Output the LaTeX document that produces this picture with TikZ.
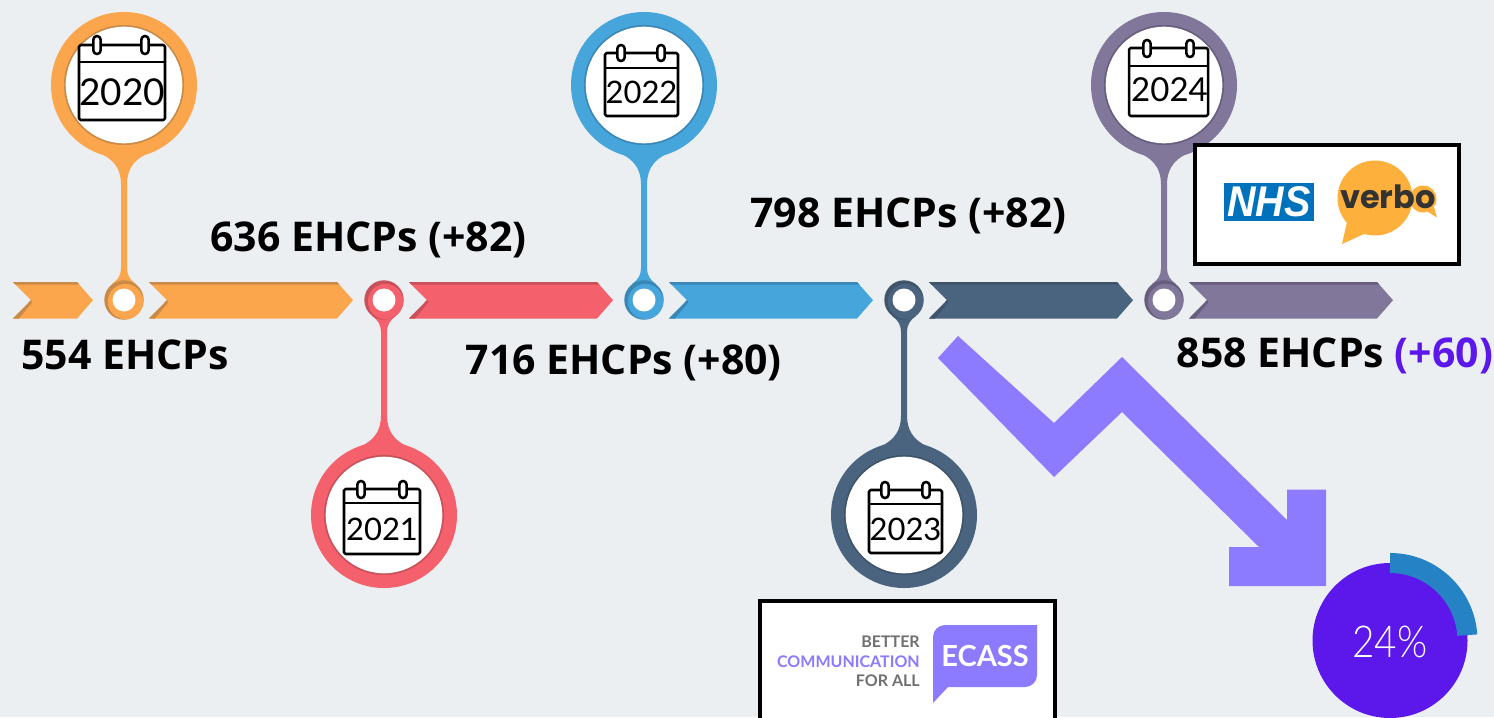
\documentclass[tikz,border=0pt]{standalone}
\usepackage{fontspec}
\setmainfont{Open Sans}
\newfontfamily\yearfont{Lato}
\newfontfamily\thinfont{Lato}[UprightFont=* Light]
\newfontfamily\logofont{Lato}
\newfontfamily\nhsfont{Liberation Sans}
\newfontfamily\verbofont{Poppins}
\definecolor{bgc}{HTML}{EBEFF2}
\definecolor{orangeC}{HTML}{FBA64C}\definecolor{orangeD}{HTML}{C98A48}
\definecolor{redC}{HTML}{F4606B}\definecolor{redD}{HTML}{C8505A}
\definecolor{blueC}{HTML}{46A6DB}\definecolor{blueD}{HTML}{3A86B5}
\definecolor{navyC}{HTML}{4A6480}\definecolor{navyD}{HTML}{3F5469}
\definecolor{mauveC}{HTML}{81779A}\definecolor{mauveD}{HTML}{675D7D}
\definecolor{arrowC}{HTML}{8C7AFF}
\definecolor{violetC}{HTML}{5C17EB}
\definecolor{arcC}{HTML}{2583C5}
\definecolor{nhsC}{HTML}{0072BC}
\definecolor{verboC}{HTML}{FDB03B}
\definecolor{greyT}{HTML}{707070}
\newcommand{\pxfont}[1]{\fontsize{\dimexpr#1pt*3/4\relax}{\dimexpr#1pt*9/10\relax}\selectfont}
\tikzset{
  x=0.75pt,y=-0.75pt,
  count/.style={anchor=base west,inner sep=0pt,font=\pxfont{41}\bfseries,text=black},
  yeartext/.style={inner sep=0pt,text=black},
  calline/.style={draw=black,line width=1.9pt,line join=round},
  logobox/.style={draw=black,fill=white,line width=3pt},
}
% x0 x1 main dark
\newcommand{\chev}[4]{%
  \fill[#3] (#1,282) -- ({#2-16},282) -- (#2,300.2) -- ({#2-16},318.5) -- (#1,318.5) -- ({#1+18},300.2) -- cycle;
  \fill[#4] (#1,282) -- ({#2-16},282) -- ({#2-13.6},284.7) -- ({#1+2.4},284.7) -- cycle;
  \fill[#4] (#1,318.5) -- ({#1+18},300.2) -- ({#1+19.5},302) -- ({#1+6},318.5) -- cycle;
}
% cx sign main dark
\newcommand{\pin}[4]{%
  \begin{scope}[shift={(#1,300)},yscale=#2]
    \fill[#3] (-29,-149) .. controls (-14,-143) and (-3,-135) .. (-3,-115) -- (-3,-32)
      .. controls (-3,-25) and (-6,-20) .. (-12,-16) -- (12,-16)
      .. controls (6,-20) and (3,-25) .. (3,-32) -- (3,-115)
      .. controls (3,-135) and (14,-143) .. (29,-149) -- cycle;
    \fill[#3] (0,-215) circle (73);
    \fill[#4] (0,-215) circle (60);
    \fill[white] (0,-215) circle (58.3);
  \end{scope}
  \fill[#4] (#1,300) circle (19.7);
  \fill[#3] ({#1+1.5},301.5) circle (17.6);
  \fill[white] (#1,300) circle (11.5);
}
% x1 x2 y1 y2 ring1 ring2 ringtop ringbot header
\newcommand{\calend}[9]{%
  \draw[calline,fill=white,rounded corners=1.2pt] (#1,#3) rectangle (#2,#4);
  \draw[calline] (#1,#9) -- (#2,#9);
  \draw[calline,fill=white,rounded corners=2.6pt] ({#5-3.6},#7) rectangle ({#5+3.6},#8);
  \draw[calline,fill=white,rounded corners=2.6pt] ({#6-3.6},#7) rectangle ({#6+3.6},#8);
}
\begin{document}
\begin{tikzpicture}
\useasboundingbox (0,0) rectangle (1494,717);
\fill[bgc] (0,0) rectangle (1494,717);
\clip (0,0) rectangle (1494,717);
\chev{13}{93}{orangeC}{orangeD}
\chev{149}{353}{orangeC}{orangeD}
\chev{409}{613}{redC}{redD}
\chev{669}{873}{blueC}{blueD}
\chev{929}{1133}{navyC}{navyD}
\chev{1189}{1393}{mauveC}{mauveD}
\pin{124}{1}{orangeC}{orangeD}
\pin{384}{-1}{redC}{redD}
\pin{644}{1}{blueC}{blueD}
\pin{904}{-1}{navyC}{navyD}
\pin{1164}{1}{mauveC}{mauveD}
% calendars
\calend{79}{165}{45}{120}{97}{145}{36}{54}{62}
\node[yeartext,font=\yearfont\pxfont{37}] (y2020) at (122,92) {2020};
\calend{344}{420}{489}{554}{361}{403}{481}{498}{503}
\node[yeartext,font=\yearfont\pxfont{31}] (y2021) at (382,529) {2021};
\calend{605}{678}{53}{116}{621}{661}{45}{61}{68}
\node[yeartext,font=\yearfont\pxfont{31}] (y2022) at (641.5,92.5) {2022};
\calend{869}{942}{490}{553}{885}{926}{482}{498}{504}
\node[yeartext,font=\yearfont\pxfont{31}] (y2023) at (905.5,529) {2023};
\calend{1129}{1208}{48}{116}{1147}{1190}{40}{57}{66}
\node[yeartext,font=\yearfont\pxfont{33}] (y2024) at (1169.5,90) {2024};
% texts
\node[count] (t554) at (21,369) {554 EHCPs};
\node[count] (t636) at (210,251) {636 EHCPs (+82)};
\node[count] (t716) at (465.5,374) {716 EHCPs (+80)};
\node[count] (t798) at (750,227) {798 EHCPs (+82)};
\node[count] (t858) at (1176.5,367) {858 EHCPs \textcolor{violetC}{(+60)}};
% zigzag
\fill[arrowC] (958,336) -- (1054,423) -- (1122,357) -- (1287,520) -- (1287,489.5) -- (1326,489.5)
  -- (1326,586) -- (1229,586) -- (1229,547) -- (1259,547) -- (1122,412) -- (1054,477) -- (938,358) -- cycle;
% donut
\fill[violetC] (1390,640.5) circle (77.5);
\fill[arcC] (1390,553) arc[start angle=-90,end angle=-4,radius=87.5] -- (1457.3,635.8) arc[start angle=-4,end angle=-90,radius=67.5] -- cycle;
\node[inner sep=0pt,text=white,font=\thinfont\pxfont{44},xscale=.88] (pct) at (1390,642) {24\%};
% NHS/verbo box
\draw[logobox] (1195,145) rectangle (1459,264);
\fill[nhsC] (1224,183) rectangle (1314,221);
\node[inner sep=0pt,text=white,font=\nhsfont\pxfont{43}\bfseries\itshape,xscale=.92] (nhs) at (1269,202) {NHS};
\fill[verboC] (1375,198) circle (37.5);
\fill[verboC] (1347,222) -- (1342,244) -- (1364,234) -- cycle;
\fill[verboC] (1423,199) circle (13.5);
\fill[verboC] (1425,210) -- (1437,217.5) -- (1433,204) -- cycle;
\node[inner sep=0pt,text=black!80,font=\verbofont\pxfont{32}\bfseries] (verbo) at (1388,197) {verbo};
% ECASS box
\draw[logobox] (760,601) rectangle (1055,730);
\fill[arrowC] (945,625) -- (1037,625) -- (1037,675) arc[start angle=0,end angle=90,radius=12] -- (948,687) -- (933,703) -- (933,637) arc[start angle=180,end angle=270,radius=12] -- cycle;
\node[inner sep=0pt,text=white,font=\logofont\pxfont{29}\bfseries] (ecass) at (985,656) {ECASS};
\node[anchor=east,inner sep=0pt,text=greyT,font=\logofont\pxfont{16}\bfseries] (better) at (920,642) {BETTER};
\node[anchor=east,inner sep=0pt,text=arrowC,font=\logofont\pxfont{16}\bfseries] (comm) at (920,662) {COMMUNICATION};
\node[anchor=east,inner sep=0pt,text=greyT,font=\logofont\pxfont{16}\bfseries] (forall) at (920,681) {FOR ALL};
\end{tikzpicture}
\end{document}
